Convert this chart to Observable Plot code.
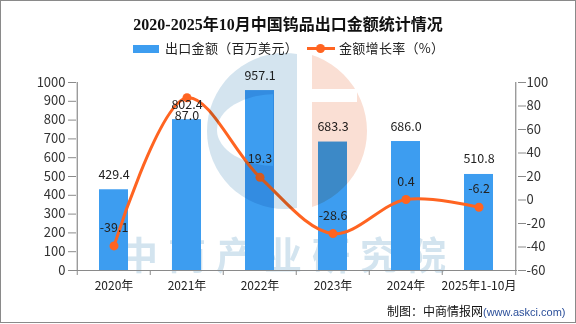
<!DOCTYPE html>
<html>
<head>
<meta charset="utf-8">
<script src="https://cdn.jsdelivr.net/npm/d3@7"></script>
<script src="https://cdn.jsdelivr.net/npm/@observablehq/plot@0.6"></script>
<style>
  body { margin: 0; background: #fff; }
  #root { position: relative; width: 576px; height: 324px; overflow: hidden; background: #fff;
          font-family: "Noto Sans CJK SC", sans-serif; }
  .abs { position: absolute; white-space: nowrap; }
  #title { left: 0; top: 15px; width: 576px; text-align: center; font: bold 16px/20px "Liberation Serif", "Noto Sans CJK SC", serif; color: #111; }
  .lg { font-size: 13px; line-height: 16px; color: #222; top: 40px; letter-spacing: 0.3px; }
  #wm { left: 120px; top: 234px; font: bold 38px/38px "Noto Sans CJK SC", sans-serif; letter-spacing: 10px; color: #d3e4ef; }
  #chart { left: 0; top: 0; }
  #logo { left: 0; top: 0; mix-blend-mode: multiply; pointer-events: none; }
  #cap { left: 387px; top: 303px; font-size: 12px; line-height: 16px; color: #111; }
  #cap span { font: 11px "Liberation Sans", Arial, sans-serif; color: #2b4f9a; }
  #border { left: 0; top: 0; width: 576px; height: 323px; box-sizing: border-box; border: 1px solid #8a8a8a; pointer-events: none; }
</style>
</head>
<body>
<div id="root">
  <div id="wm" class="abs">中商产业研究院</div>
  <div id="chart" class="abs"></div>
  <svg id="logo" class="abs" width="576" height="324">
    <defs>
      <clipPath id="cl"><rect x="0" y="0" width="297" height="324"/></clipPath>
      <clipPath id="cr"><rect x="312" y="0" width="264" height="324"/></clipPath>
      <mask id="mh">
        <rect x="0" y="0" width="576" height="324" fill="white"/>
        <ellipse cx="276" cy="130" rx="59" ry="36" fill="black"/>
        <rect x="273" y="0" width="30" height="324" fill="white"/>
      </mask>
      <mask id="mo">
        <rect x="0" y="0" width="576" height="324" fill="white"/>
        <rect x="312" y="89" width="45" height="13" fill="black"/>
      </mask>
    </defs>
    <g clip-path="url(#cl)"><circle cx="285" cy="131" r="78" fill="#d4e4ef" mask="url(#mh)"/></g>
    <g clip-path="url(#cr)"><circle cx="287" cy="131" r="80" fill="#fadfd4" mask="url(#mo)"/></g>
  </svg>
  <div id="title" class="abs">2020-2025年10月中国钨品出口金额统计情况</div>
  <div class="abs" style="left:133px;top:45px;width:26px;height:8px;background:#3d9df0"></div>
  <div class="abs lg" style="left:165px">出口金额（百万美元）</div>
  <div class="abs" style="left:307px;top:47px;width:28px;height:3px;background:#ff6421"></div>
  <div class="abs" style="left:316px;top:44px;width:9px;height:9px;border-radius:50%;background:#ff6421"></div>
  <div class="abs lg" style="left:339px">金额增长率（%）</div>
  <div id="cap" class="abs">制图：中商情报网<span>(www.askci.com)</span></div>
  <div id="border" class="abs"></div>
</div>
<script>
const categories = ["2020年", "2021年", "2022年", "2023年", "2024年", "2025年1-10月"];
const exportValue = [429.4, 802.4, 957.1, 683.3, 686.0, 510.8];
const growthRate = [-39.1, 87.0, 19.3, -28.6, 0.4, -6.2];
const leftTicks = [0, 100, 200, 300, 400, 500, 600, 700, 800, 900, 1000];
const rightTicks = [-60, -40, -20, 0, 20, 40, 60, 80, 100];

const W = 576, H = 300, mL = 76, mR = 59, mT = 82, mB = 30;
const yMax = 1000, rMin = -60, rMax = 100;
const toLeft = v => (v - rMin) / (rMax - rMin) * yMax;
const fromLeft = v => Math.round(v / yMax * (rMax - rMin) + rMin);
const step = (W - mL - mR) / categories.length;

const data = categories.map((c, i) => ({cat: c, value: exportValue[i], rate: growthRate[i]}));
const last = categories[categories.length - 1];
const axisColor = "#8a8a8a";
const orange = "#ff6421";

const chart = Plot.plot({
  width: W, height: H,
  marginTop: mT, marginBottom: mB, marginLeft: mL, marginRight: mR,
  style: {background: "transparent", fontFamily: "'Noto Sans CJK SC', sans-serif", color: "#222", overflow: "visible"},
  x: {domain: categories, paddingInner: 0.6, paddingOuter: 0.3, axis: null},
  y: {domain: [0, yMax], axis: null},
  marks: [
    Plot.barY(data, {x: "cat", y: "value", fill: "#3d9df0"}),
    // axis lines
    Plot.ruleY([0], {stroke: axisColor, strokeWidth: 1.2}),
    Plot.ruleX([categories[0]], {y1: 0, y2: yMax, dx: -step / 2, stroke: axisColor, strokeWidth: 1.2}),
    Plot.ruleX([last], {y1: 0, y2: yMax, dx: step / 2, stroke: axisColor, strokeWidth: 1.2}),
    // x boundary ticks
    Plot.ruleX(categories, {y1: 0, y2: 0, insetBottom: -5, dx: -step / 2, stroke: axisColor}),
    Plot.ruleX([last], {y1: 0, y2: 0, insetBottom: -5, dx: step / 2, stroke: axisColor}),
    Plot.axisX({tickSize: 0, tickPadding: 11, fontSize: 12, fill: "#222", label: null}),
    Plot.axisY(leftTicks, {anchor: "left", tickSize: 8, tickPadding: 3, fontSize: 13, stroke: axisColor, fill: "#333",
      label: null, tickFormat: v => String(v)}),
    Plot.axisY(rightTicks.map(toLeft), {anchor: "right", tickSize: 8, tickPadding: 1, fontSize: 13,
      stroke: axisColor, fill: "#333", label: null, tickFormat: v => String(fromLeft(v))}),
    // growth line
    Plot.line(data, {x: "cat", y: d => toLeft(d.rate), stroke: orange, strokeWidth: 3, curve: "catmull-rom"}),
    Plot.dot(data, {x: "cat", y: d => toLeft(d.rate), r: 4.5, fill: orange}),
    // labels
    Plot.text(data, {x: "cat", y: "value", text: d => d.value.toFixed(1), dy: -15, fontSize: 12.5, fill: "#222"}),
    Plot.text(data.filter(d => d.rate > 80), {x: "cat", y: d => toLeft(d.rate), text: d => d.rate.toFixed(1), dy: 18, fontSize: 12.5, fill: "#222"}),
    Plot.text(data.filter(d => d.rate <= 80), {x: "cat", y: d => toLeft(d.rate), text: d => d.rate.toFixed(1), dy: -18, fontSize: 12.5, fill: "#222"})
  ]
});
document.getElementById("chart").appendChild(chart);
</script>
</body>
</html>
